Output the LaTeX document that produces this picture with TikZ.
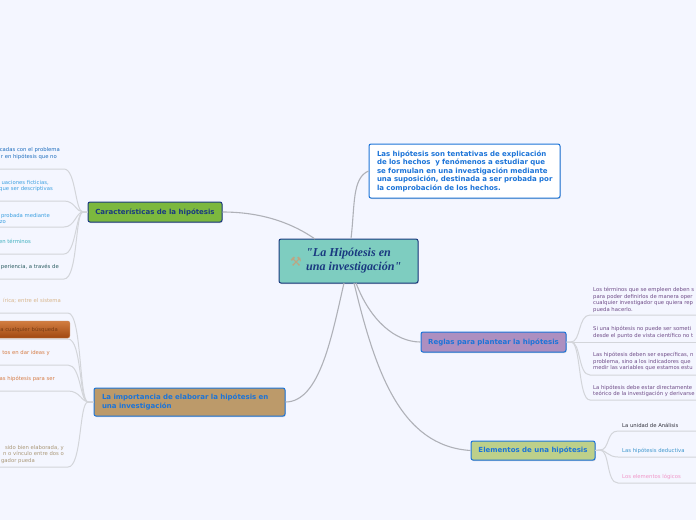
\documentclass[tikz,border=0pt]{standalone}
\usepackage{fontspec}
\setmainfont{DejaVu Sans}
\newfontfamily\serifrm{Liberation Serif}
\usetikzlibrary{shadows}
\definecolor{bgc}{HTML}{F4F6FF}
\definecolor{mainline}{HTML}{AFB1B8}
\definecolor{subline}{HTML}{D3D5DA}
\definecolor{topicblue}{HTML}{1C74D8}
\definecolor{navy}{HTML}{1A3A80}
\tikzset{
  x=1pt,y=-1pt,
  topic/.style={draw=topicblue,line width=1pt,rounded corners=2pt,inner sep=0pt,align=left,
    font=\bfseries\fontsize{7}{8.4}\selectfont,text=topicblue,
    drop shadow={shadow xshift=0.6pt,shadow yshift=-1pt,opacity=.3,fill=black!60}},
  mainconn/.style={draw=mainline,line width=1.1pt},
  subconn/.style={draw=subline,line width=1pt},
  leafl/.style={anchor=east,inner sep=0pt,align=right,font=\fontsize{5.3}{6.5}\selectfont},
  leafr/.style={anchor=west,inner sep=0pt,align=left,font=\fontsize{5.3}{6.5}\selectfont},
}
\begin{document}
\begin{tikzpicture}
\fill[bgc] (0,0) rectangle (696,520);
\useasboundingbox (0,0) rectangle (696,520);
\clip (0,0) rectangle (696,520);

\node[topic,draw=navy,fill={rgb,255:red,126;green,205;blue,192},minimum width=139pt,minimum height=44pt] (root) at (348.5,261) {};
\node[anchor=west,inner sep=0pt,align=left,text=navy,font=\serifrm\bfseries\itshape\fontsize{12.1}{14}\selectfont] (roottext) at (306,261) {"La Hipótesis en\\una investigación"};
\node[anchor=center,inner sep=0pt,text={rgb,255:red,190;green,165;blue,130},font=\fontsize{13}{13}\selectfont] (icon) at (296,262) {⚒};
\node[topic,fill=white,minimum width=191pt,minimum height=54pt,text width=175pt,font=\bfseries\fontsize{7}{8.5}\selectfont] (def) at (464.5,171) {Las hipótesis son tentativas de explicación\\de los hechos\ \ y fenómenos a estudiar que\\se formulan en una investigación mediante\\\mbox{una suposición, destinada a ser probada por}\\la comprobación de los hechos.};
\node[topic,draw=navy,text=navy,fill={rgb,255:red,124;green,184;blue,62},minimum width=134pt,minimum height=20pt,align=center] (car) at (155,212) {Características de la hipótesis};
\node[topic,fill={rgb,255:red,188;green,154;blue,106},minimum width=191pt,minimum height=28pt,text width=175pt] (imp) at (189.5,402) {La importancia de elaborar la hipótesis en\\una investigación};
\node[topic,fill={rgb,255:red,173;green,143;blue,192},minimum width=145pt,minimum height=20pt,align=center] (reg) at (493.5,342) {Reglas para plantear la hipótesis};
\node[topic,fill={rgb,255:red,189;green,208;blue,138},minimum width=124pt,minimum height=19pt,align=center] (ele) at (533,450.5) {Elementos de una hipótesis};

\draw[mainconn] (root.north) ++(2.5,0) coordinate (rd) .. controls (355,205) and (352,178) .. (def.west);
\draw[mainconn] (car.east) .. controls (265,212) and (295,225) .. (315,239) coordinate (rc);
\draw[mainconn] (imp.east) .. controls (320,402) and (332,335) .. (344,283) coordinate (ri);
\draw[mainconn] (reg.west) .. controls (395,342) and (370,320) .. (356,283) coordinate (rr);
\draw[mainconn] (ele.west) .. controls (400,446) and (375,370) .. (354,283) coordinate (re);

% --- left: Caracteristicas
\node[leafl,text={rgb,255:red,30;green,110;blue,190}] (c1) at (60,153.5) {cadas con el problema\\r en hipótesis que no\hspace*{3pt}};
\node[leafl,text={rgb,255:red,60;green,160;blue,225}] (c2) at (53,186) {uaciones ficticias,\hspace*{4pt}\\que ser descriptivas};
\node[leafl,text={rgb,255:red,60;green,160;blue,225}] (c3) at (50,218.5) {probada mediante\\zo\hspace*{44pt}};
\node[leafl,text={rgb,255:red,60;green,175;blue,190}] (c4) at (31,241) {en términos};
\node[leafl,text={rgb,255:red,40;green,90;blue,95}] (c5) at (59,267) {periencia, a través de};
\coordinate (cc1) at (0,169); \coordinate (cc2) at (0,201); \coordinate (cc3) at (0,227); \coordinate (cc4) at (0,254); \coordinate (cc5) at (0,279);
\draw[subconn] (car.west) -- (83,212) .. controls (75,212) and (76,169) .. (64,169) -- (cc1);
\draw[subconn] (car.west) -- (83,212) .. controls (76,212) and (75,201) .. (64,201) -- (cc2);
\draw[subconn] (car.west) -- (83,212) .. controls (76,212) and (75,227) .. (64,227) -- (cc3);
\draw[subconn] (car.west) -- (83,212) .. controls (76,212) and (76,254) .. (64,254) -- (cc4);
\draw[subconn] (car.west) -- (83,212) .. controls (75,212) and (78,279) .. (64,279) -- (cc5);

% --- left: Importancia
\node[leafl,text={rgb,255:red,216;green,181;blue,138}] (i1) at (61,301) {írica; entre el sistema};
\node[draw={rgb,255:red,200;green,130;blue,80},rounded corners=2pt,line width=.5pt,top color={rgb,255:red,210;green,125;blue,65},bottom color={rgb,255:red,160;green,72;blue,16},
  minimum height=17pt,minimum width=80pt,inner xsep=0pt,inner ysep=0pt,text width=78pt,align=right,text={rgb,255:red,120;green,60;blue,20},font=\fontsize{5.3}{6.5}\selectfont,
  anchor=east] (orange) at (70,329.5) {a cualquier búsqueda\hspace*{11pt}};
\node[leafl,text={rgb,255:red,214;green,125;blue,70}] (i3) at (50,353) {tos en dar ideas y};
\node[leafl,text={rgb,255:red,214;green,125;blue,70}] (i4) at (55,379) {as hipótesis para ser};
\node[leafl,text={rgb,255:red,170;green,152;blue,120}] (i5) at (64,454.5) {sido bien elaborada, y\\n o vínculo entre dos o\\gador pueda\hspace*{29pt}};
\coordinate (ic1) at (0,313); \coordinate (ic2) at (0,339); \coordinate (ic3) at (0,365); \coordinate (ic4) at (0,391); \coordinate (ic5) at (0,467);
\draw[subconn] (imp.west) -- (88,402) .. controls (79,402) and (82,313) .. (68,313) -- (ic1);
\draw[subconn] (imp.west) -- (88,402) .. controls (79,402) and (82,339) .. (68,339) -- (ic2);
\draw[subconn] (imp.west) -- (88,402) .. controls (80,402) and (81,365) .. (68,365) -- (ic3);
\draw[subconn] (imp.west) -- (88,402) .. controls (82,402) and (80,391) .. (68,391) -- (ic4);
\draw[subconn] (imp.west) -- (88,402) .. controls (79,402) and (82,467) .. (68,467) -- (ic5);

% --- right: Reglas
\node[leafr,text={rgb,255:red,110;green,75;blue,135}] (r1) at (593,300) {Los términos que se empleen deben s\\para poder definirlos de manera oper\\cualquier investigador que quiera rep\\pueda hacerlo.};
\node[leafr,text={rgb,255:red,110;green,75;blue,135}] (r2) at (593,332.5) {Si una hipótesis no puede ser someti\\desde el punto de vista científico no t};
\node[leafr,text={rgb,255:red,110;green,75;blue,135}] (r3) at (593,361.5) {Las hipótesis deben ser específicas, n\\problema, sino a los indicadores que\\medir las variables que estamos estu};
\node[leafr,text={rgb,255:red,110;green,75;blue,135}] (r4) at (593,391) {La hipótesis debe estar directamente\\teórico de la investigación y derivarse};
\coordinate (rc1) at (696,315); \coordinate (rc2) at (696,342); \coordinate (rc3) at (696,375); \coordinate (rc4) at (696,400);
\draw[subconn] (reg.east) -- (571,342) .. controls (581,342) and (578,315) .. (590,315) -- (rc1);
\draw[subconn] (reg.east) -- (rc2);
\draw[subconn] (reg.east) -- (571,342) .. controls (581,342) and (578,375) .. (590,375) -- (rc3);
\draw[subconn] (reg.east) -- (571,342) .. controls (581,342) and (578,400) .. (590,400) -- (rc4);

% --- right: Elementos
\node[leafr,text={rgb,255:red,50;green,50;blue,60}] (e1) at (622,425) {La unidad de Análisis};
\node[leafr,text={rgb,255:red,60;green,150;blue,205}] (e2) at (622,451) {Las hipótesis deductiva};
\node[leafr,text={rgb,255:red,240;green,150;blue,200}] (e3) at (622,477) {Los elementos lógicos};
\coordinate (ec1) at (696,431); \coordinate (ec2) at (696,457); \coordinate (ec3) at (696,483);
\draw[subconn] (ele.east) -- (600,450) .. controls (610,450) and (606,431) .. (618,431) -- (ec1);
\draw[subconn] (ele.east) -- (600,450) .. controls (606,450) and (608,457) .. (618,457) -- (ec2);
\draw[subconn] (ele.east) -- (600,450) .. controls (610,450) and (606,483) .. (618,483) -- (ec3);
\end{tikzpicture}
\end{document}
